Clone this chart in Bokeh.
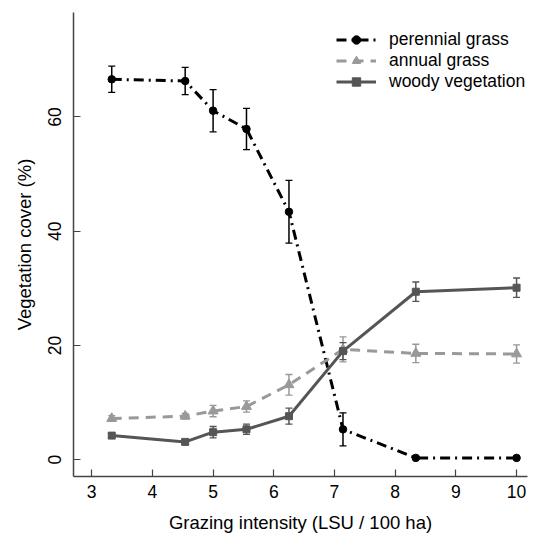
from bokeh.plotting import figure
from bokeh.models import Range1d, FixedTicker, ColumnDataSource, Whisker, TeeHead, Legend, LegendItem
from bokeh.embed import file_html
from bokeh.resources import INLINE

# ---- data ----
grazing = [3.33, 4.54, 5.00, 5.55, 6.25, 7.14, 8.34, 10.0]
perennial = [66.6, 66.3, 61.1, 57.9, 43.4, 5.3, 0.3, 0.3]
perennial_err = [2.3, 2.4, 3.7, 3.6, 5.5, 2.9, 0.2, 0.2]
annual = [7.2, 7.6, 8.5, 9.3, 13.1, 19.3, 18.6, 18.5]
annual_err = [0.5, 0.5, 1.0, 1.0, 1.8, 2.2, 1.6, 1.6]
woody = [4.2, 3.1, 4.8, 5.3, 7.6, 19.0, 29.4, 30.1]
woody_err = [0.3, 0.3, 1.0, 0.9, 1.4, 1.5, 1.7, 1.7]
x_ticks = [3, 4, 5, 6, 7, 8, 9, 10]
y_ticks = [0, 20, 40, 60]

FONT = "Liberation Sans"

p = figure(width=534, height=535, output_backend="svg", toolbar_location=None,
           x_range=Range1d(2.70, 10.18), y_range=Range1d(-2.96, 78.3),
           min_border_left=73, min_border_right=7, min_border_top=12, min_border_bottom=56)
p.outline_line_color = None
p.xgrid.visible = False
p.ygrid.visible = False
p.background_fill_color = "white"
p.border_fill_color = "white"

for ax in (p.xaxis[0], p.yaxis[0]):
    ax.axis_line_color = "#444444"
    ax.axis_line_width = 1.5
    ax.major_tick_line_color = "#444444"
    ax.major_tick_line_width = 1.2
    ax.major_tick_in = 7
    ax.major_tick_out = 0
    ax.minor_tick_line_color = None
    ax.major_label_text_font = FONT
    ax.major_label_text_font_size = "17.5px"
    ax.major_label_text_color = "#000000"
    ax.axis_label_text_font = FONT
    ax.axis_label_text_font_size = "18.5px"
    ax.axis_label_text_font_style = "normal"
    ax.axis_label_text_color = "#000000"

p.xaxis.ticker = FixedTicker(ticks=x_ticks)
p.yaxis.ticker = FixedTicker(ticks=y_ticks)
p.xaxis.axis_label = "Grazing intensity (LSU / 100 ha)"
p.yaxis.axis_label = "Vegetation cover (%)"
p.yaxis.major_label_orientation = "vertical"
p.xaxis.major_label_standoff = 8
p.yaxis.major_label_standoff = 12
p.xaxis.axis_label_standoff = 11
p.yaxis.axis_label_standoff = 11

series = [
    ("perennial grass", perennial, perennial_err, "#000000", "10 5 2 5", "circle", 7.5),
    ("annual grass", annual, annual_err, "#999999", "10 7", "triangle", 10),
    ("woody vegetation", woody, woody_err, "#555555", "solid", "square", 7),
]

items = []
for label, ys, err, color, dash, marker, size in series:
    src = ColumnDataSource(dict(x=grazing, y=ys,
                                lo=[a - b for a, b in zip(ys, err)],
                                hi=[a + b for a, b in zip(ys, err)]))
    w = Whisker(source=src, base="x", upper="hi", lower="lo",
                line_color=color, line_width=1.5,
                upper_head=TeeHead(size=7, line_color=color, line_width=1.3),
                lower_head=TeeHead(size=7, line_color=color, line_width=1.3))
    p.add_layout(w)
    r1 = p.line("x", "y", source=src, line_color=color, line_width=3, line_dash=dash)
    r2 = p.scatter("x", "y", source=src, marker=marker, size=size,
                   fill_color=color, line_color=color)
    items.append(LegendItem(label=label, renderers=[r1, r2]))

legend = Legend(items=items, location=(263, 384))
legend.border_line_color = None
legend.background_fill_alpha = 0
legend.padding = 0
legend.margin = 0
legend.spacing = 0
legend.glyph_width = 40
legend.glyph_height = 21
legend.label_height = 21
legend.label_standoff = 13
legend.label_text_font = FONT
legend.label_text_font_size = "17.5px"
legend.label_text_color = "#000000"
p.add_layout(legend)

open("out.html", "w").write(file_html(p, INLINE))
